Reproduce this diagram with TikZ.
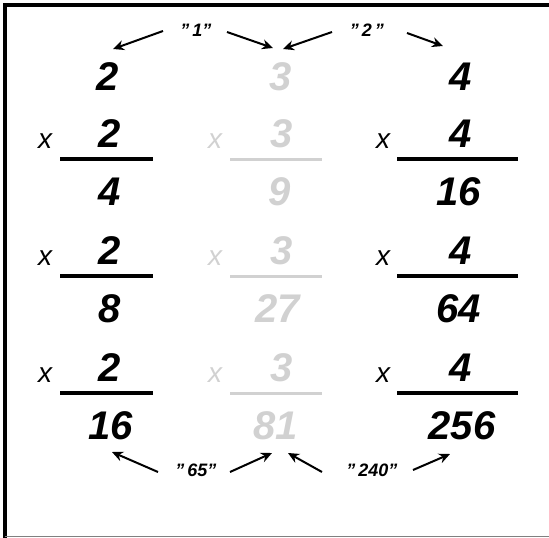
\documentclass[tikz,border=0pt]{standalone}
\usepackage{fontspec}
\setmainfont{Liberation Sans}
\usetikzlibrary{arrows.meta}

\definecolor{faint}{gray}{0.82}
\tikzset{
  digit/.style={font=\fontsize{40}{40}\selectfont\itshape\bfseries, inner sep=0pt},
  times/.style={font=\fontsize{28}{28}\selectfont\itshape, inner sep=0pt},
  note/.style={font=\fontsize{18}{18}\selectfont\itshape\bfseries, inner sep=0pt},
  bar/.style={line width=4pt},
  arr/.style={line width=2pt, -{Stealth[length=11pt,width=10pt]}},
}

\begin{document}
\begin{tikzpicture}[x=1pt,y=-1pt]
	    \useasboundingbox (0,0) rectangle (549,538);
	    % frame
	    \draw[line width=4pt] (5,538) -- (5,5) -- (549,5);
	    \draw[gray, line width=1.5pt] (5,536.5) -- (549,536.5);
	    % powers of two
	    \node[digit] (twoA) at (108,77) {2};
	    \node[times] (twoX1) at (45,141) {x};
	    \node[digit] (twoM1) at (110,134) {2};
	    \draw[bar] (60,159) -- (153,159);
	    \node[digit] (twoP2) at (110,192) {4};
	    \node[times] (twoX2) at (45,258) {x};
	    \node[digit] (twoM2) at (110,251) {2};
	    \draw[bar] (60,276) -- (153,276);
	    \node[digit] (twoP3) at (110,309) {8};
	    \node[times] (twoX3) at (45,375) {x};
	    \node[digit] (twoM3) at (110,368) {2};
	    \draw[bar] (60,393) -- (153,393);
	    \node[digit] (twoP4) at (111,426) {16};
	    % powers of three, faded
	    \begin{scope}[faint]
	    \node[digit] (threeA) at (281,77) {3};
	    \node[times] (threeX1) at (215,141) {x};
	    \node[digit] (threeM1) at (282,134) {3};
	    \draw[line width=3pt] (230,159) -- (322,159);
	    \node[digit] (threeP2) at (280,192) {9};
	    \node[times] (threeX2) at (215,258) {x};
	    \node[digit] (threeM2) at (282,251) {3};
	    \draw[line width=3pt] (230,276) -- (322,276);
	    \node[digit] (threeP3) at (278,309) {27};
	    \node[times] (threeX3) at (215,375) {x};
	    \node[digit] (threeM3) at (282,368) {3};
	    \draw[line width=3pt] (230,393) -- (322,393);
	    \node[digit] (threeP4) at (276,426) {81};
	    \end{scope}
	    % powers of four
	    \node[digit] (fourA) at (461,77) {4};
	    \node[times] (fourX1) at (383,141) {x};
	    \node[digit] (fourM1) at (461,134) {4};
	    \draw[bar] (397,159) -- (518,159);
	    \node[digit] (fourP2) at (459,192) {16};
	    \node[times] (fourX2) at (383,258) {x};
	    \node[digit] (fourM2) at (461,251) {4};
	    \draw[bar] (397,276) -- (518,276);
	    \node[digit] (fourP3) at (459,309) {64};
	    \node[times] (fourX3) at (383,375) {x};
	    \node[digit] (fourM3) at (461,368) {4};
	    \draw[bar] (397,393) -- (518,393);
	    \node[digit] (fourP4) at (462,426) {256};
	    % gaps, top
	    \node[note] (gapA) at (196,30) {"\,1"};
	    \node[note] (gapB) at (367,30) {"\,2\,"};
	    \coordinate (s1) at (163,31);
	    \coordinate (e1) at (113,49);
	    \coordinate (s2) at (227,32);
	    \coordinate (e2) at (273,48);
	    \coordinate (s3) at (332,32);
	    \coordinate (e3) at (283,49);
	    \coordinate (s4) at (407,33);
	    \coordinate (e4) at (443,46);
	    \draw[arr] (s1) -- (e1);
	    \draw[arr] (s2) -- (e2);
	    \draw[arr] (s3) -- (e3);
	    \draw[arr] (s4) -- (e4);
	    % gaps, bottom
	    \node[note] (gapC) at (196,470) {"\,65"};
	    \node[note] (gapD) at (372,470) {"\,240"};
	    \coordinate (s5) at (158,472);
	    \coordinate (e5) at (112,452);
	    \coordinate (s6) at (230,472);
	    \coordinate (e6) at (272,453);
	    \coordinate (s7) at (322,472);
	    \coordinate (e7) at (288,453);
	    \coordinate (s8) at (413,470);
	    \coordinate (e8) at (450,454);
	    \draw[arr] (s5) -- (e5);
	    \draw[arr] (s6) -- (e6);
	    \draw[arr] (s7) -- (e7);
	    \draw[arr] (s8) -- (e8);
	\end{tikzpicture}
\end{document}
